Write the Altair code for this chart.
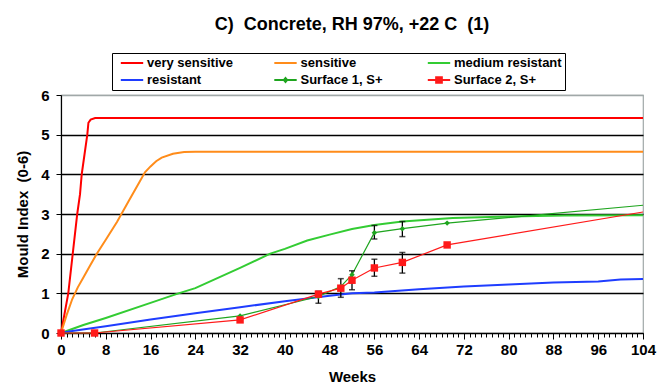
import altair as alt
import pandas as pd

# ---------------- data ----------------
series_names = ["very sensitive", "sensitive", "medium resistant",
                "resistant", "Surface 1, S+", "Surface 2, S+"]
series_colors = ["#ff0000", "#ff8c1a", "#33cc33", "#1f3dff", "#1fa51f", "#ff1a1a"]
legend_order = ["very sensitive", "resistant", "sensitive",
                "Surface 1, S+", "medium resistant", "Surface 2, S+"]

vs_weeks = [0, 1.3, 2.1, 2.9, 3.4, 3.7, 4.2, 4.7, 4.9, 5.3, 6.1, 104]
vs_vals = [0, 1.0, 2.0, 3.0, 3.5, 4.0, 4.5, 5.0, 5.3, 5.38, 5.42, 5.42]

se_weeks = [0, 1, 2, 3, 4, 5, 6.4, 8, 10, 12, 14, 15, 16, 17, 18, 20, 22, 24, 104]
se_vals = [0, 0.45, 0.85, 1.15, 1.4, 1.65, 2.0, 2.35, 2.8, 3.3, 3.8, 4.05, 4.2,
           4.33, 4.42, 4.52, 4.56, 4.57, 4.57]

mr_weeks = [0, 4, 8, 16, 21, 24, 32, 37.4, 40, 44, 48, 52, 56, 61, 70, 80, 90, 104]
mr_vals = [0, 0.2, 0.38, 0.76, 1.0, 1.13, 1.64, 2.0, 2.12, 2.33, 2.48, 2.62, 2.72,
           2.81, 2.9, 2.94, 2.96, 2.97]

re_weeks = [0, 2, 8, 16, 24, 32, 40, 48, 52, 56, 64, 72, 80, 88, 96, 100, 104]
re_vals = [0, 0.05, 0.17, 0.34, 0.5, 0.65, 0.8, 0.94, 1.0, 1.02, 1.1, 1.17, 1.22,
           1.27, 1.3, 1.35, 1.36]

s1_weeks = [0, 6, 32, 46, 50, 52, 56, 61, 69, 104]
s1_vals = [0, 0, 0.43, 0.92, 1.17, 1.47, 2.53, 2.63, 2.77, 3.22]
s1_marker = [True, True, True, True, True, True, True, True, True, False]

s2_weeks = [0, 6, 32, 46, 50, 52, 56, 61, 69, 104]
s2_vals = [0, 0, 0.33, 0.98, 1.13, 1.33, 1.64, 1.78, 2.22, 3.05]
s2_marker = [True, True, True, True, True, True, True, True, True, False]

eb_weeks = [46, 50, 52, 56, 56, 61, 61]
eb_lo = [0.75, 0.90, 1.09, 2.37, 1.43, 2.43, 1.51]
eb_hi = [1.05, 1.37, 1.57, 2.71, 1.86, 2.81, 2.03]

x_ticks = list(range(0, 105))
y_ticks = [0, 1, 2, 3, 4, 5, 6]

title_text = "C)\u00a0 Concrete, RH 97%, +22 C\u00a0 (1)"
x_title = "Weeks"
y_title = "Mould Index\u00a0 (0-6)"

LINE = "M-1.6,-0.14H1.6V0.14H-1.6Z"
legend_paths = [LINE, LINE, LINE,
                LINE + "M0,-0.5L0.42,0L0,0.5L-0.42,0Z",
                LINE, LINE + "M-0.55,-0.55H0.55V0.55H-0.55Z"]

# ---------------- tables ----------------
def frame(name, w, v, m=None):
    d = pd.DataFrame({"series": name, "week": w, "value": v})
    d["marker"] = m if m is not None else False
    return d

model_df = pd.concat([
    frame(series_names[0], vs_weeks, vs_vals),
    frame(series_names[1], se_weeks, se_vals),
    frame(series_names[2], mr_weeks, mr_vals),
    frame(series_names[3], re_weeks, re_vals),
], ignore_index=True)
s1_df = frame(series_names[4], s1_weeks, s1_vals, s1_marker)
s2_df = frame(series_names[5], s2_weeks, s2_vals, s2_marker)
surf_df = pd.concat([s1_df, s2_df], ignore_index=True)
eb_df = pd.DataFrame({"week": eb_weeks, "lo": eb_lo, "hi": eb_hi})
all_df = pd.concat([model_df, surf_df], ignore_index=True)

FONT = "Liberation Sans, Arial, Helvetica, sans-serif"
color_of = dict(zip(series_names, series_colors))

xscale = alt.Scale(domain=[0, 104], nice=False, zero=False)
yscale = alt.Scale(domain=[0, 6], nice=False, zero=False)
line_scale = alt.Scale(domain=series_names, range=series_colors)
leg_scale = alt.Scale(domain=legend_order, range=[color_of[s] for s in legend_order])

x_axis = alt.Axis(
    values=x_ticks,
    labelExpr="datum.value % 8 === 0 ? datum.label : ''",
    tickSize={"condition": {"test": "datum.value % 8 === 0", "value": 6}, "value": 4},
    grid=False, title=x_title, labelOverlap=False, labelFlush=False,
    labelFont=FONT, labelFontSize=15, labelFontWeight="bold", labelColor="black",
    labelPadding=3, tickColor="black", domainColor="black", domainWidth=1.2,
    titleFont=FONT, titleFontSize=15, titleFontWeight="bold", titleColor="black",
    titlePadding=12,
)
y_axis = alt.Axis(
    values=y_ticks, grid=True,
    gridColor={"condition": {"test": "datum.value === 6", "value": "#a0a8a8"}, "value": "#000000"},
    gridWidth=1.3, tickSize=5, tickColor="black", domainColor="black", domainWidth=1.2,
    labelFont=FONT, labelFontSize=15, labelFontWeight="bold", labelColor="black",
    labelPadding=7, title=y_title, titleFont=FONT, titleFontSize=15,
    titleFontWeight="bold", titleColor="black", titlePadding=10,
)


def X(f="week"):
    return alt.X(f"{f}:Q", scale=xscale, axis=x_axis)


def Y(f="value"):
    return alt.Y(f"{f}:Q", scale=yscale, axis=y_axis)


leg = dict(
    orient="none", legendX=51, legendY=-42, columns=3, title=None, gridAlign="all",
    strokeColor="black", fillColor="white", padding=3,
    symbolSize=196, symbolStrokeWidth=0, symbolOffset=10, symbolOpacity=1,
    labelOffset=8, labelFont=FONT, labelFontSize=13, labelFontWeight="bold",
    labelColor="black", columnPadding=13.5, rowPadding=3,
    labelExpr="datum.label + '    '",
)

model_lines = alt.Chart(model_df).mark_line(strokeWidth=2).encode(
    x=X(), y=Y(),
    stroke=alt.Stroke("series:N", scale=line_scale, legend=None),
    order=alt.Order("week:Q"),
)
surf_lines = alt.Chart(surf_df).mark_line(strokeWidth=1.2).encode(
    x=X(), y=Y(),
    stroke=alt.Stroke("series:N", scale=line_scale, legend=None),
    order=alt.Order("week:Q"),
)
eb_rule = alt.Chart(eb_df).mark_rule(color="black", strokeWidth=1.3).encode(
    x=X(), y=Y("lo"), y2="hi:Q"
)
eb_lo_tick = alt.Chart(eb_df).mark_tick(color="black", orient="horizontal",
                                        size=6, thickness=1.5).encode(x=X(), y=Y("lo"))
eb_hi_tick = alt.Chart(eb_df).mark_tick(color="black", orient="horizontal",
                                        size=6, thickness=1.5).encode(x=X(), y=Y("hi"))
s1_pts = alt.Chart(s1_df).transform_filter("datum.marker").mark_point(
    shape="diamond", filled=True, size=30, color=series_colors[4], opacity=1
).encode(x=X(), y=Y())
s2_pts = alt.Chart(s2_df).transform_filter("datum.marker").mark_point(
    shape="square", filled=True, size=55, color=series_colors[5], opacity=1
).encode(x=X(), y=Y())
legend_layer = alt.Chart(all_df).mark_point(filled=True, opacity=0).encode(
    x=X(), y=Y(),
    color=alt.Color("series:N", scale=leg_scale, legend=alt.Legend(**leg)),
    shape=alt.Shape("series:N", scale=alt.Scale(domain=legend_order, range=legend_paths),
                    legend=alt.Legend(**leg)),
)

chart = alt.layer(
    model_lines, surf_lines, eb_rule, eb_lo_tick, eb_hi_tick, s1_pts, s2_pts, legend_layer
).resolve_scale(color="independent", stroke="independent", shape="independent").properties(
    width=582, height=238,
    autosize=alt.AutoSizeParams(type="none"),
    padding={"left": 61, "top": 95, "right": 24, "bottom": 58},
    background="white",
    title=alt.TitleParams(title_text, font=FONT, fontSize=18, fontWeight="bold",
                          color="black", anchor="middle", dy=-15),
).configure_view(stroke="#a0a8a8", strokeWidth=1.2)

chart.save("out.html", embed_options={"renderer": "svg", "actions": False})
